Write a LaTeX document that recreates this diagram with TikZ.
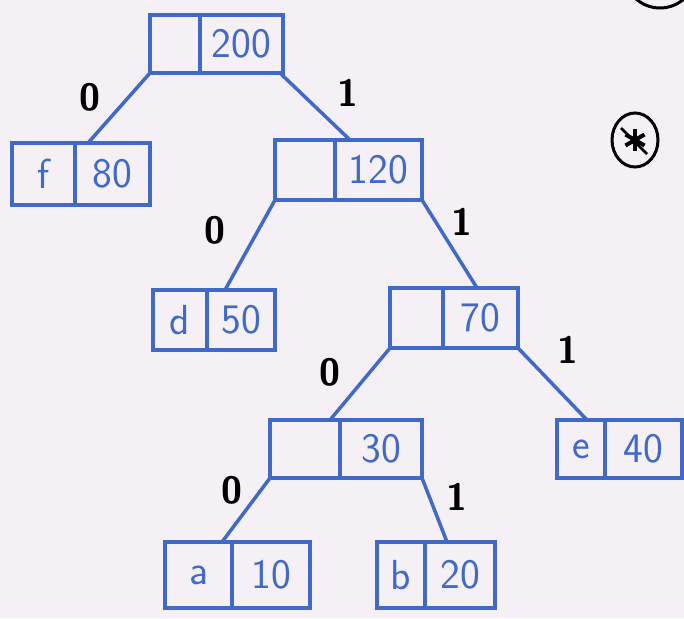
\documentclass[tikz,border=0pt]{standalone}
\usepackage{fontspec}
\usetikzlibrary{calc,shapes.geometric}
\definecolor{pen}{HTML}{4169C8}
\definecolor{paper}{HTML}{F4F0F6}
\newcommand\twocell[8]{%
  \node[cell, minimum width=#4pt, minimum height=#6pt, anchor=north west] (#1L) at (#2,#3) {#7};
  \node[cell, minimum width=#5pt, minimum height=#6pt, anchor=north west] (#1R) at (#1L.north east) {#8};
}
\begin{document}
\begin{tikzpicture}[x=1pt,y=-1pt,
  cell/.style={draw=pen, line width=3.5pt, outer sep=0pt, inner sep=0pt, text=pen,
    font=\sffamily\fontsize{42}{44}\selectfont},
  edge/.style={draw=pen, line width=3.5pt, line cap=round},
  bit/.style={text=black, font=\sffamily\bfseries\fontsize{38}{40}\selectfont, inner sep=0pt}]
\fill[paper] (0,0) rectangle (684,618);
\useasboundingbox (0,0) rectangle (684,618);
\begin{scope}
\clip (0,0) rectangle (684,618);
\draw[black, line width=3pt] (660,-28) ellipse [x radius=36pt, y radius=36pt];
\end{scope}
\node[draw=black, line width=3pt, ellipse, minimum width=46pt, minimum height=54pt, inner sep=0pt] (star) at (635,140) {};
\foreach \a in {90,30,-30} {
  \draw[black, line width=4pt] ($(star.center)+(\a:11)$) -- ($(star.center)+(\a+180:11)$);
}
\draw[black, line width=2.5pt] ($(star.center)+(-14,-12)$) -- ($(star.center)+(12,14)$);

\twocell{root}{150}{15}{50}{83}{58}{}{200}
\twocell{f}{12}{143}{63}{75}{62}{f}{80}
\twocell{n120}{275}{140}{60}{87}{60}{}{120}
\twocell{d}{153}{290}{54}{68}{60}{d}{50}
\twocell{n70}{390}{288}{53}{75}{60}{}{70}
\twocell{n30}{270}{420}{70}{82}{58}{}{30}
\twocell{e}{557}{420}{48}{77}{58}{e}{40}
\twocell{a}{165}{542}{67}{78}{66}{a}{10}
\twocell{b}{377}{542}{48}{70}{66}{b}{20}

\draw[edge] (rootL.south west) -- ($(fR.north west)+(13,0)$);
\draw[edge] ($(rootR.south east)+(-3,0)$) -- ($(n120R.north west)+(15,0)$);
\draw[edge] (n120L.south west) -- ($(dR.north west)+(18,0)$);
\draw[edge] (n120R.south east) -- ($(n70R.north west)+(34,0)$);
\draw[edge] (n70L.south west) -- ($(n30R.north west)+(-10,0)$);
\draw[edge] (n70R.south east) -- ($(eL.north west)+(30,0)$);
\draw[edge] (n30L.south west) -- ($(aL.north east)+(-10,0)$);
\draw[edge] (n30R.south east) -- ($(bR.north west)+(22,0)$);

\node[bit] (b1) at (90,97) {0};
\node[bit] (b2) at (348,93) {1};
\node[bit] (b3) at (215,230) {0};
\node[bit] (b4) at (462,222) {1};
\node[bit] (b5) at (330,372) {0};
\node[bit] (b6) at (568,350) {1};
\node[bit] (b7) at (232,490) {0};
\node[bit] (b8) at (457,497) {1};
\end{tikzpicture}
\end{document}
